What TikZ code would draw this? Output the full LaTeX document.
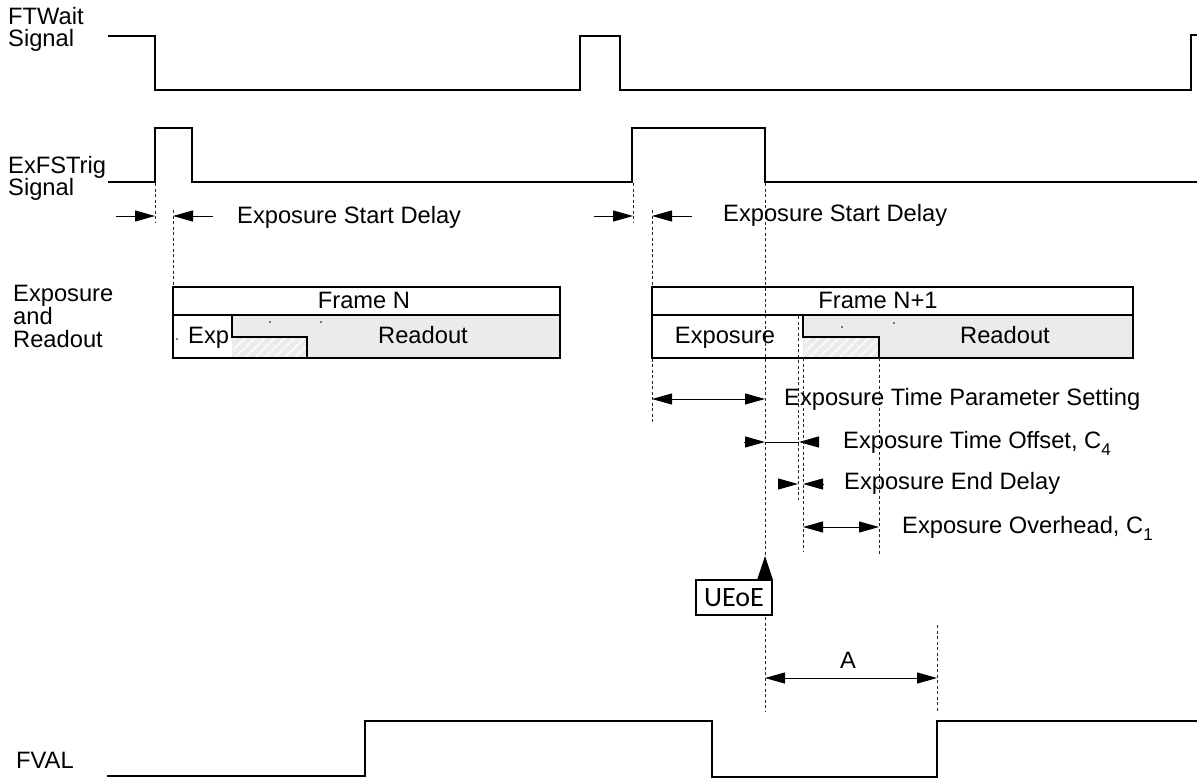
\documentclass[tikz,border=0pt]{standalone}
\usepackage{fontspec}
\setmainfont{Liberation Sans}
\newfontfamily\uefont{Carlito}
\usetikzlibrary{arrows.meta,patterns.meta}
\definecolor{rdgray}{RGB}{235,235,235}
\definecolor{hatchc}{RGB}{250,250,250}
\newcommand{\mysub}[1]{\raisebox{-0.3em}{\fontsize{17}{18}\selectfont #1}}
\begin{document}
\begin{tikzpicture}[x=1pt,y=-1pt,
  lbl/.style={font=\fontsize{23.7}{26}\selectfont, inner sep=0pt, anchor=base west},
  ctr/.style={font=\fontsize{23.7}{26}\selectfont, inner sep=0pt, anchor=base},
  sig/.style={line width=2.2pt, line join=miter},
  guide/.style={line width=0.8pt, dash pattern=on 3pt off 2.5pt, black!85},
  frm/.style={line width=1.5pt},
  dimline/.style={line width=1pt},
  tri/.tip={Triangle[length=20pt,width=11pt]},
  dot/.style={fill=black, inner sep=0pt, minimum size=1.6pt, circle}]
\useasboundingbox (0,0) rectangle (1197,781);

% ---------- left labels ----------
\node[lbl] (ftw1) at (8,25) {FTWait};
\node[lbl] (ftw2) at (8,47) {Signal};
\node[lbl] (exf1) at (8,173) {ExFSTrig};
\node[lbl] (exf2) at (8,195) {Signal};
\node[lbl] (exr1) at (13,301) {Exposure};
\node[lbl] (exr2) at (13,324) {and};
\node[lbl] (exr3) at (13,347) {Readout};
\node[lbl] (fval) at (16,768) {FVAL};

% ---------- signals ----------
\draw[sig] (108,36) -- (155,36) -- (155,90) -- (580,90) -- (580,36) -- (620,36)
  -- (620,90) -- (1191,90) -- (1191,35) -- (1197,35);
\draw[sig] (108,182) -- (155,182) -- (155,128) -- (192,128) -- (192,182) -- (632,182)
  -- (632,128) -- (765,128) -- (765,182) -- (1197,182);
\draw[sig] (107,776) -- (365,776) -- (365,721) -- (712,721) -- (712,777) -- (937,777)
  -- (937,721) -- (1197,721);

% ---------- guide lines ----------
\draw[guide] (155,183) -- (155,223);
\draw[guide] (173,210) -- (173,287);
\draw[guide] (633,183) -- (633,222);
\draw[guide] (652,210) -- (652,422);
\draw[guide] (765,183) -- (765,557);
\draw[guide] (765,617) -- (765,711);
\draw[guide] (937,625) -- (937,711);

% ---------- Frame N ----------
\fill[rdgray] (232,315) rectangle (560,358);
\fill[pattern={Lines[angle=45,distance=7pt,line width=1.8pt]}, pattern color=hatchc]
  (233,338) rectangle (307,357);
\draw[frm] (173,287) rectangle (560,358);
\draw[frm] (173,315) -- (560,315);
\draw[line width=1.3pt] (307,358) -- (307,337) -- (232,337) -- (232,315);
\node[ctr] (frameN) at (364,308) {Frame N};
\node[lbl] (expN) at (188,343) {Exp};
\node[ctr] (readN) at (423,343) {Readout};
\node[dot] (d1) at (177,339) {};
\node[dot] (d2) at (270,322) {};
\node[dot] (d3) at (321,322) {};

% ---------- Frame N+1 ----------
\fill[rdgray] (803,315) rectangle (1133,358);
\fill[pattern={Lines[angle=45,distance=7pt,line width=1.8pt]}, pattern color=hatchc]
  (804,338) rectangle (879,357);
\draw[frm] (652,287) rectangle (1133,358);
\draw[frm] (652,315) -- (1133,315);
\draw[line width=1.3pt] (879,358) -- (879,337) -- (803,337) -- (803,315);
\node[ctr] (frameN1) at (878,308) {Frame N+1};
\node[ctr] (expN1) at (725,343) {Exposure};
\node[ctr] (readN1) at (1005,343) {Readout};
\node[dot] (d4) at (842,327) {};
\node[dot] (d5) at (894,323) {};
\draw[guide] (798,316) -- (798,500);
\draw[guide] (803,358) -- (803,552);
\draw[guide] (879,358) -- (879,555);

% ---------- Exposure start delay ----------
\coordinate (esa1) at (116,216);
\coordinate (esa2) at (155,216);
\coordinate (esb1) at (213,216);
\coordinate (esb2) at (173,216);
\draw[dimline,-tri] (esa1) -- (esa2);
\draw[dimline,-tri] (esb1) -- (esb2);
\node[lbl] (esd1) at (237,223) {Exposure Start Delay};
\coordinate (esc1) at (594,216);
\coordinate (esc2) at (633,216);
\coordinate (esd1a) at (692,216);
\coordinate (esd2a) at (652,216);
\draw[dimline,-tri] (esc1) -- (esc2);
\draw[dimline,-tri] (esd1a) -- (esd2a);
\node[lbl] (esd2) at (723,221) {Exposure Start Delay};

% ---------- dimensions ----------
\coordinate (tp1) at (652,399);
\coordinate (tp2) at (765,399);
\draw[dimline,tri-tri] (tp1) -- (tp2);
\node[lbl] (etps) at (784,405) {Exposure Time Parameter Setting};

\coordinate (to0) at (744,442);
\coordinate (to1) at (765,442);
\coordinate (to2) at (799,442);
\coordinate (to3) at (818,442);
\draw[dimline,-tri] (to0) -- (to1);
\draw[dimline] (to1) -- (to2);
\draw[dimline,-tri] (to3) -- (to2);
\node[lbl] (eto) at (843,448) {Exposure Time Offset, C\mysub{4}};

\coordinate (ed0) at (778,484);
\coordinate (ed1) at (798,484);
\coordinate (ed2) at (803,484);
\coordinate (ed3) at (823,484);
\draw[dimline,-tri] (ed0) -- (ed1);
\draw[dimline,-tri] (ed3) -- (ed2);
\node[lbl] (eed) at (844,489) {Exposure End Delay};

\coordinate (oh1) at (803,527);
\coordinate (oh2) at (879,527);
\draw[dimline,tri-tri] (oh1) -- (oh2);
\node[lbl] (eoh) at (902,533) {Exposure Overhead, C\mysub{1}};

\coordinate (a1) at (765,678);
\coordinate (a2) at (937,678);
\draw[dimline,tri-tri] (a1) -- (a2);
\node[ctr] (alab) at (848,668) {A};

% ---------- UEoE ----------
\node[draw, line width=2.4pt, minimum width=76pt, minimum height=35pt, inner sep=0pt,
  font=\uefont\fontsize{28}{30}\selectfont] (ueoe) at (734,597.5) {UEoE};
\fill (757,580) -- (773,580) -- (765,556) -- cycle;
\end{tikzpicture}
\end{document}
